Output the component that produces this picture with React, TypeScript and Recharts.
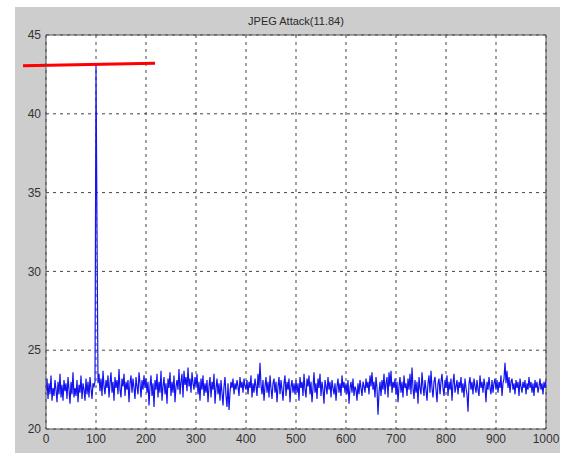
import React from "react";
import { LineChart, Line, XAxis, YAxis, CartesianGrid, ReferenceLine } from "recharts";

const title = "JPEG Attack(11.84)";
const xTicks = [0, 100, 200, 300, 400, 500, 600, 700, 800, 900, 1000];
const yTicks = [20, 25, 30, 35, 40, 45];
const step = 2;

const segA = [
  22.4, 23.2, 21.9, 22.9, 22.2, 23.4, 21.8, 22.6, 22.1, 23.1,
  22.5, 21.7, 23.0, 22.2, 23.5, 22.0, 22.8, 21.8, 23.1, 22.4,
  22.9, 21.9, 23.3, 22.5, 21.6, 23.0, 22.2, 23.6, 22.0, 22.6,
  22.1, 23.1, 21.7, 22.8, 22.3, 23.4, 21.9, 22.9, 22.5, 21.8,
  23.2, 22.2, 23.0, 22.0, 23.3, 22.6, 21.9, 22.9, 22.7, 23.0,
];
const segB = [
  43.1, 32.7,
  22.9, 23.5, 22.4, 23.2, 22.1, 23.7, 22.7, 22.2, 23.1, 22.6,
  23.4, 22.0, 22.9, 23.6, 22.3, 23.0, 21.8, 23.3, 22.6, 23.1,
  22.2, 23.8, 22.5, 22.0, 23.2, 22.7, 23.5, 22.1, 23.0, 22.5,
  23.1, 21.7, 22.9, 23.4, 22.3, 23.2, 22.6, 21.9, 23.3, 22.7,
  22.2, 23.6, 22.9, 22.0, 23.1, 22.5, 23.4, 22.6,
];
const segC = [
  23.2, 22.3, 23.0, 21.5, 22.7, 23.4, 22.1, 22.9, 21.4, 23.1,
  22.5, 23.5, 22.0, 23.0, 22.3, 23.7, 21.8, 22.7, 23.3, 22.2,
  22.9, 21.6, 23.2, 22.6, 23.6, 22.1, 23.0, 22.3, 23.4, 21.7,
  22.7, 23.1, 22.5, 23.8, 22.2, 23.0, 23.5, 22.0, 23.7, 22.8,
  23.3, 22.4, 23.9, 22.7, 23.2, 22.3, 23.6, 22.9, 22.5, 23.3,
];
const segD = [
  22.7, 23.5, 22.2, 23.0, 21.8, 23.2, 22.5, 23.4, 22.1, 22.9,
  22.3, 23.1, 21.7, 22.7, 23.3, 22.0, 23.0, 22.5, 23.5, 21.6,
  22.6, 23.2, 22.2, 22.9, 21.8, 23.1, 22.3, 21.5, 22.7, 23.3,
  22.1, 21.4, 22.9, 21.2, 22.3, 23.0, 22.6, 23.2, 22.2, 22.9,
  22.5, 23.1, 22.7, 22.1, 23.3, 22.6, 23.0, 22.3, 23.2, 22.7,
];
const segE = [
  22.5, 23.1, 22.2, 23.0, 22.6, 23.4, 22.0, 22.9, 22.3, 23.2,
  22.7, 22.1, 23.5, 22.6, 24.2, 22.8, 22.2, 23.1, 21.8, 22.7,
  23.3, 22.3, 23.0, 22.0, 23.4, 22.6, 21.9, 22.9, 23.2, 22.3,
  23.0, 21.7, 22.7, 23.3, 22.2, 23.1, 22.5, 21.8, 22.9, 23.4,
  22.1, 23.0, 22.5, 23.2, 21.7, 22.7, 23.1, 22.3, 22.9, 22.2,
];
const segF = [
  23.1, 22.3, 22.9, 21.8, 23.3, 22.6, 23.0, 22.1, 23.5, 22.5,
  22.0, 23.2, 22.7, 23.4, 22.2, 23.0, 21.7, 22.6, 23.6, 22.3,
  22.9, 21.9, 23.2, 22.6, 23.5, 22.1, 23.0, 22.5, 21.6, 23.1,
  22.7, 22.2, 23.3, 22.5, 23.0, 22.0, 23.1, 22.6, 22.2, 22.9,
  21.8, 22.7, 23.2, 22.3, 22.9, 22.1, 23.4, 22.6, 23.0, 22.3,
];
const segG = [
  22.9, 22.2, 23.1, 21.6, 22.6, 23.0, 22.3, 23.2, 22.1, 22.7,
  22.5, 21.8, 22.9, 22.2, 23.1, 22.6, 22.1, 23.0, 22.7, 22.3,
  23.2, 22.6, 23.0, 22.2, 23.4, 22.7, 23.6, 22.5, 23.0, 22.0,
  23.3, 22.6, 20.9, 22.3, 23.0, 22.1, 23.1, 22.5, 23.5, 22.2,
  22.9, 23.3, 22.0, 23.6, 22.7, 23.7, 22.3, 23.0, 22.6, 23.2,
];
const segH = [
  22.2, 23.0, 21.7, 22.7, 23.3, 22.3, 23.0, 22.0, 23.4, 22.6,
  22.9, 22.1, 23.2, 22.5, 23.5, 22.2, 23.9, 22.6, 21.9, 23.1,
  22.3, 23.0, 21.6, 23.3, 22.6, 22.2, 23.6, 22.7, 22.1, 23.1,
  22.5, 21.8, 22.9, 23.4, 22.3, 23.7, 22.6, 22.0, 23.0, 23.3,
  22.5, 21.7, 22.9, 23.2, 22.2, 23.0, 23.5, 22.6, 22.1, 23.1,
];
const segI = [
  22.6, 23.4, 22.1, 23.0, 22.5, 23.2, 21.8, 22.9, 23.5, 22.3,
  22.7, 23.1, 22.2, 23.0, 22.6, 23.3, 22.3, 22.9, 22.0, 23.2,
  22.6, 22.2, 21.1, 22.9, 23.3, 22.5, 23.0, 22.2, 23.2, 22.7,
  22.3, 23.1, 22.5, 22.1, 23.4, 22.6, 23.0, 22.3, 23.2, 22.7,
  21.7, 23.0, 22.5, 23.3, 22.6, 22.2, 23.1, 22.3, 22.9, 23.2,
];
const segJ = [
  22.5, 23.1, 22.3, 23.0, 22.6, 23.4, 22.1, 22.9, 23.2, 24.2,
  22.9, 23.7, 22.6, 23.3, 22.3, 23.0, 23.2, 22.5, 22.9, 22.2,
  23.1, 22.6, 23.0, 22.1, 23.2, 22.7, 22.3, 23.0, 22.6, 23.1,
  22.2, 22.9, 22.5, 23.3, 22.6, 23.0, 22.3, 22.9, 22.1, 23.1,
  22.6, 23.0, 22.3, 22.7, 23.2, 22.5, 22.9, 22.2, 23.0, 22.6, 23.1,
];

const values = [...segA, ...segB, ...segC, ...segD, ...segE, ...segF, ...segG, ...segH, ...segI, ...segJ];
const data = values.map((v, i) => ({ x: i * step, y: v }));

const redMark = [
  { x: -46, y: 43.05 },
  { x: 218, y: 43.2 },
];

const font = "'Liberation Sans', Arial, sans-serif";

export default function App() {
  return (
    <div style={{ position: "absolute", left: 0, top: 0, width: 566, height: 457, background: "#ffffff", overflow: "hidden" }}>
      <div style={{ position: "absolute", left: 15, top: 7, width: 545, height: 446, background: "#cdcdcd" }} />
      <div
        style={{
          position: "absolute",
          left: 46,
          width: 500,
          top: 15,
          textAlign: "center",
          fontFamily: font,
          fontSize: 11,
          color: "#2a2a2a",
        }}
      >
        {title}
      </div>
      <div style={{ position: "absolute", left: 0, top: 0 }}>
        <LineChart width={566} height={457} data={data} margin={{ top: 35, right: 20, bottom: 8, left: 0 }}>
          <CartesianGrid
            fill="#ffffff"
            stroke="#444444"
            strokeDasharray="3 4"
            horizontalValues={yTicks}
            verticalValues={xTicks}
          />
          <XAxis
            dataKey="x"
            type="number"
            domain={[0, 1000]}
            ticks={xTicks}
            height={20}
            tickSize={0}
            tickMargin={5}
            axisLine={{ stroke: "#555555" }}
            tick={{ fill: "#333333", fontSize: 12, fontFamily: font }}
            allowDataOverflow
          />
          <YAxis
            type="number"
            domain={[20, 45]}
            ticks={yTicks}
            width={46}
            tickSize={0}
            tickMargin={5}
            axisLine={{ stroke: "#555555" }}
            tick={{ fill: "#333333", fontSize: 12, fontFamily: font }}
            allowDataOverflow
          />
          <ReferenceLine y={45} stroke="#555555" strokeWidth={1} />
          <ReferenceLine x={1000} stroke="#555555" strokeWidth={1} />
          <Line
            type="linear"
            dataKey="y"
            stroke="#1414f0"
            strokeWidth={1.2}
            dot={false}
            isAnimationActive={false}
          />
          <ReferenceLine segment={redMark} stroke="#ff0000" strokeWidth={3} ifOverflow="visible" />
        </LineChart>
      </div>
    </div>
  );
}
